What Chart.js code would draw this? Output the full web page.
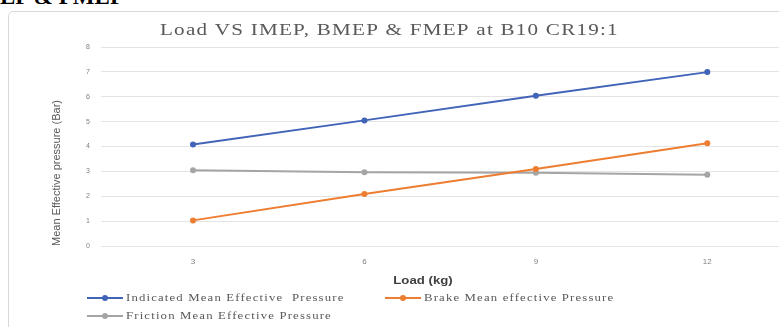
<!DOCTYPE html>
<html>
<head>
<meta charset="utf-8">
<script src="https://cdn.jsdelivr.net/npm/chart.js@4/dist/chart.umd.min.js"></script>
<style>
  html, body { margin: 0; padding: 0; background: #ffffff; }
  body { width: 779px; height: 327px; position: relative; overflow: hidden; }
  #heading {
    position: absolute; left: 0; top: -15px; margin: 0;
    font: bold 23px "Liberation Serif", "Times New Roman", serif;
    line-height: 1; color: #000; white-space: nowrap;
  }
  #frame {
    position: absolute; left: 8px; top: 11px; width: 820px; height: 340px;
    border: 1px solid #d9d9d9; border-radius: 5px; box-sizing: border-box;
  }
  #chart { position: absolute; left: 0; top: 0; }
</style>
</head>
<body>
<div id="heading">EP &amp; FMEP</div>
<div id="frame"></div>
<canvas id="chart" width="800" height="327"></canvas>
<script>
// Engine load steps (kg)
const loads = [3, 6, 9, 12];
// Mean effective pressures (bar)
const imep = [4.08, 5.05, 6.04, 6.99];
const bmep = [1.03, 2.09, 3.10, 4.13];
const fmep = [3.05, 2.96, 2.94, 2.86];
// Series names and value-axis ticks
const seriesNames = [
  'Indicated Mean Effective  Pressure',
  'Brake Mean effective Pressure',
  'Friction Mean Effective Pressure'
];
const yTicks = [0, 1, 2, 3, 4, 5, 6, 7, 8];

const chartTitle = 'Load VS IMEP, BMEP & FMEP at B10 CR19:1';
const xTitle = 'Load (kg)';
const yTitle = 'Mean Effective pressure (Bar)';

const colors = ['#4164b8', '#ed7d31', '#a5a5a5'];

function series(values, i) {
  return {
    label: seriesNames[i],
    data: loads.map((x, k) => ({ x: x, y: values[k] })),
    borderColor: colors[i],
    backgroundColor: colors[i],
    borderWidth: 2,
    pointRadius: 3,
    pointHoverRadius: 3,
    pointBorderWidth: 0,
    tension: 0
  };
}

// text drawn with a horizontal stretch factor
function wideText(ctx, text, x, y, stretch, align) {
  ctx.save();
  ctx.translate(x, y);
  ctx.scale(stretch, 1);
  ctx.textAlign = align;
  ctx.fillText(text, 0, 0);
  ctx.restore();
}

// Titles and the two-row legend drawn onto the canvas
const decorations = {
  id: 'decorations',
  afterDraw(chart) {
    const ctx = chart.ctx;
    ctx.save();
    ctx.textBaseline = 'middle';

    // chart title
    ctx.fillStyle = '#595959';
    ctx.font = '17px "Liberation Serif", serif';
    ctx.letterSpacing = '1px';
    wideText(ctx, chartTitle, 160, 31, 1.24, 'left');
    ctx.letterSpacing = '0px';

    // x axis title
    ctx.fillStyle = '#404040';
    ctx.font = 'bold 11px "Liberation Sans", sans-serif';
    wideText(ctx, xTitle, 423, 281, 1.2, 'center');

    // y axis title
    ctx.save();
    ctx.translate(57, 173);
    ctx.rotate(-Math.PI / 2);
    ctx.fillStyle = '#595959';
    ctx.font = '11px "Liberation Sans Narrow", "Liberation Sans", sans-serif';
    ctx.textAlign = 'center';
    ctx.fillText(yTitle, 0, 0);
    ctx.restore();

    // legend
    const slots = [[87, 298], [385, 298], [87, 316]];
    ctx.font = '11px "Liberation Serif", serif';
    ctx.letterSpacing = '1px';
    chart.data.datasets.forEach((ds, i) => {
      const [lx, ly] = slots[i];
      ctx.strokeStyle = ds.borderColor;
      ctx.lineWidth = 2;
      ctx.beginPath();
      ctx.moveTo(lx, ly);
      ctx.lineTo(lx + 36, ly);
      ctx.stroke();
      ctx.fillStyle = ds.backgroundColor;
      ctx.beginPath();
      ctx.arc(lx + 18, ly, 3, 0, Math.PI * 2);
      ctx.fill();
      ctx.fillStyle = '#595959';
      wideText(ctx, ds.label, lx + 39, ly, 1.16, 'left');
    });
    ctx.restore();
  }
};

new Chart(document.getElementById('chart'), {
  type: 'line',
  data: {
    datasets: [series(imep, 0), series(bmep, 1), series(fmep, 2)]
  },
  options: {
    responsive: false,
    animation: false,
    devicePixelRatio: 1,
    layout: { padding: { left: 51, right: 7, top: 47, bottom: 61 } },
    plugins: {
      legend: { display: false },
      title: { display: false },
      tooltip: { enabled: false }
    },
    scales: {
      x: {
        type: 'linear',
        min: 1.39,
        max: 13.5,
        afterFit(scale) { scale.height = 20; },
        afterBuildTicks(scale) { scale.ticks = loads.map(v => ({ value: v })); },
        grid: { display: false, drawTicks: false },
        border: { display: false },
        ticks: {
          color: '#7f7f7f',
          font: { size: 8, family: '"Liberation Sans", sans-serif' },
          padding: 11,
          maxRotation: 0,
          autoSkip: false
        }
      },
      y: {
        min: 0,
        max: 8,
        afterFit(scale) { scale.width = 50; },
        afterBuildTicks(scale) { scale.ticks = yTicks.map(v => ({ value: v })); },
        grid: { color: '#e4e4e4', lineWidth: 1, drawTicks: false },
        border: { display: false },
        ticks: {
          color: '#7f7f7f',
          font: { size: 7, family: '"Liberation Sans", sans-serif' },
          padding: 11
        }
      }
    }
  },
  plugins: [decorations]
});
</script>
</body>
</html>
